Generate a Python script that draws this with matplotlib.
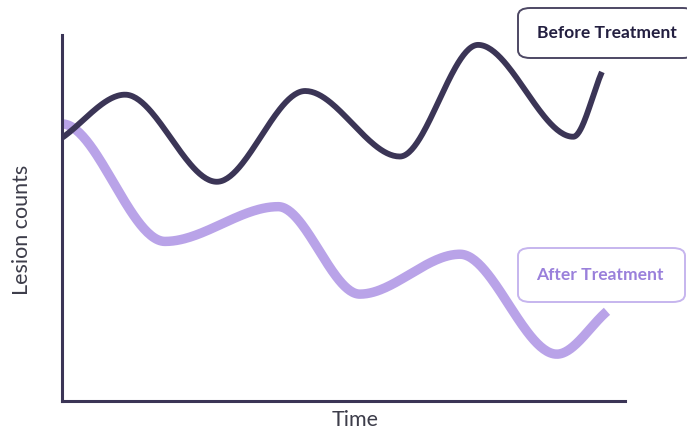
import numpy as np
import matplotlib
matplotlib.use("Agg")
import matplotlib.pyplot as plt
from matplotlib.patches import FancyBboxPatch

# Key turning points of each curve (time, lesion count; arbitrary units)
before_t = [0.0, 11.2, 27.5, 43.2, 60.0, 73.9, 90.8, 95.9]
before_y = [71.9, 83.7, 59.9, 84.7, 66.8, 97.3, 72.2, 89.9]
after_t = [0.0, 18.3, 38.4, 52.9, 70.7, 87.9, 96.8]
after_y = [75.7, 43.6, 53.1, 29.2, 40.1, 12.8, 24.5]

labels = ["Before Treatment", "After Treatment"]
x_label = "Time"
y_label = "Lesion counts"

DARK = "#3b3556"
LAVENDER = "#b9a3e8"
AFTER_TEXT = "#9a80db"
AXIS_TEXT = "#3d3d4a"


def smooth(t, y, flat_start=False, n=60):
    """Hermite curve through turning points: flat at interior extrema,
    chord slope at the ends (or flat at the start if requested)."""
    t = np.asarray(t, float)
    y = np.asarray(y, float)
    m = np.zeros_like(y)
    if not flat_start:
        m[0] = (y[1] - y[0]) / (t[1] - t[0])
    m[-1] = (y[-1] - y[-2]) / (t[-1] - t[-2])
    xs, ys = [], []
    for i in range(len(t) - 1):
        h = t[i + 1] - t[i]
        s = np.linspace(0, 1, n)
        h00 = 2 * s**3 - 3 * s**2 + 1
        h10 = s**3 - 2 * s**2 + s
        h01 = -2 * s**3 + 3 * s**2
        h11 = s**3 - s**2
        xs.append(t[i] + s * h)
        ys.append(h00 * y[i] + h10 * h * m[i] + h01 * y[i + 1] + h11 * h * m[i + 1])
    return np.concatenate(xs), np.concatenate(ys)


W, H = 687, 429
fig = plt.figure(figsize=(W / 100, H / 100), dpi=100)
ax = fig.add_axes([62 / W, (H - 401) / H, (625 - 62) / W, (401 - 35) / H])
ax.set_xlim(0, 100)
ax.set_ylim(0, 100)

bx, by = smooth(before_t, before_y)
axx, ayy = smooth(after_t, after_y, flat_start=True)
ax.plot(axx, ayy, color=LAVENDER, lw=6.8, solid_capstyle="butt", zorder=2)
ax.plot(bx, by, color=DARK, lw=4.2, solid_capstyle="butt", zorder=3)

for side in ["top", "right"]:
    ax.spines[side].set_visible(False)
for side in ["left", "bottom"]:
    ax.spines[side].set_color(DARK)
    ax.spines[side].set_linewidth(2.2)
ax.set_xticks([])
ax.set_yticks([])

fig.text(355 / W, 1 - 420 / H, x_label, ha="center", va="center",
         fontsize=15.5, color=AXIS_TEXT, family="Lato")
fig.text(22 / W, 1 - 230 / H, y_label, ha="center", va="center", rotation=90,
         fontsize=15.5, color=AXIS_TEXT, family="Lato")


def label_box(x0, y0, x1, y1, text, tx, ty, edge, tcolor):
    box = FancyBboxPatch((x0 / W, 1 - y1 / H), (x1 - x0) / W, (y1 - y0) / H,
                         boxstyle="round,pad=0,rounding_size=0.018",
                         transform=fig.transFigure, facecolor="white",
                         edgecolor=edge, linewidth=1.4, zorder=5)
    fig.add_artist(box)
    fig.text(tx / W, 1 - ty / H, text, ha="center", va="center",
             fontsize=12.6, fontweight="bold", color=tcolor, family="Lato", zorder=6)


label_box(518, 8, 695, 58, labels[0], 607, 33, "#4d4864", "#231f40")
label_box(518, 248, 685, 302, labels[1], 600, 275, "#c6b5ee", AFTER_TEXT)

fig.savefig("out.png", dpi=100, facecolor="white")
